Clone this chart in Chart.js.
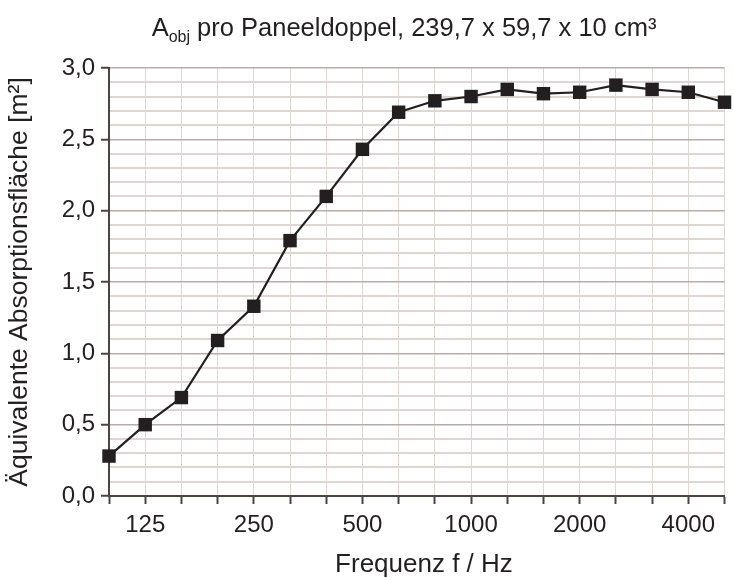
<!DOCTYPE html>
<html>
<head>
<meta charset="utf-8">
<script src="https://cdn.jsdelivr.net/npm/chart.js@4"></script>
<style>
  body { margin: 0; background: #fff; }
  #wrap { width: 734px; height: 578px; position: relative; }
</style>
</head>
<body>
<div id="wrap"><canvas id="chart" width="734" height="578"></canvas></div>
<script>
// third-octave bands
var frequencies = ['100', '125', '160', '200', '250', '315', '400', '500', '630', '800',
                   '1000', '1250', '1600', '2000', '2500', '3150', '4000', '5000'];
var absorption = [0.28, 0.50, 0.69, 1.09, 1.33, 1.79, 2.10, 2.43, 2.69, 2.77,
                  2.80, 2.85, 2.82, 2.83, 2.88, 2.85, 2.83, 2.76];
var xTickLabels = ['125', '250', '500', '1000', '2000', '4000'];

var fontFamily = '"Liberation Sans", Arial, sans-serif';
var textColor = '#231f20';
var axisColor = '#4d4442';

function isMajor(v) {
    return Math.abs(v * 2 - Math.round(v * 2)) < 1e-6;
}

// title with subscript
var titlePlugin = {
    id: 'subTitle',
    afterDraw: function(chart) {
        var ctx = chart.ctx;
        var big = '25.5px ' + fontFamily;
        var small = '16px ' + fontFamily;
        var parts = [['A', big, 0], ['obj', small, 6], [' pro Paneeldoppel, 239,7 x 59,7 x 10 cm³', big, 0]];
        var total = 0;
        parts.forEach(function(p) { ctx.font = p[1]; total += ctx.measureText(p[0]).width; });
        var x = 404 - total / 2;
        ctx.save();
        ctx.fillStyle = textColor;
        ctx.textBaseline = 'alphabetic';
        ctx.textAlign = 'left';
        parts.forEach(function(p) {
            ctx.font = p[1];
            ctx.fillText(p[0], x, 36 + p[2]);
            x += ctx.measureText(p[0]).width;
        });
        ctx.restore();
    }
};

new Chart(document.getElementById('chart'), {
    type: 'line',
    data: {
        labels: frequencies,
        datasets: [{
            data: absorption,
            borderColor: textColor,
            borderWidth: 2.2,
            pointStyle: 'rect',
            pointRadius: 9.5,
            pointBackgroundColor: textColor,
            pointBorderWidth: 0,
            tension: 0,
            clip: false
        }]
    },
    options: {
        responsive: false,
        animation: false,
        layout: { padding: { top: 68, right: 1, left: 0, bottom: 0 } },
        plugins: {
            legend: { display: false },
            title: { display: false },
            tooltip: { enabled: false }
        },
        scales: {
            x: {
                type: 'category',
                offset: false,
                afterFit: function(scale) { scale.height = 82; },
                border: { color: axisColor, width: 2 },
                grid: {
                    color: '#ddd6d3',
                    lineWidth: 1,
                    tickLength: 8,
                    tickColor: axisColor,
                    tickWidth: 2
                },
                ticks: {
                    autoSkip: false,
                    maxRotation: 0,
                    padding: 7,
                    color: textColor,
                    font: { family: fontFamily, size: 24 },
                    callback: function(value) {
                        var lab = this.getLabelForValue(value);
                        return xTickLabels.indexOf(lab) >= 0 ? lab : '';
                    }
                },
                title: {
                    display: true,
                    text: '\u00a0\u00a0Frequenz f / Hz',
                    color: textColor,
                    font: { family: fontFamily, size: 26, lineHeight: 1 },
                    padding: { top: 0, bottom: 0 }
                }
            },
            y: {
                min: 0,
                max: 3,
                afterFit: function(scale) { scale.width = 109; },
                border: { color: axisColor, width: 2 },
                grid: {
                    color: function(c) { return isMajor(c.tick.value) ? '#b8aca8' : '#ddd6d3'; },
                    lineWidth: function(c) { return isMajor(c.tick.value) ? 1.5 : 2; },
                    tickLength: 8,
                    tickColor: function(c) { return isMajor(c.tick.value) ? axisColor : 'rgba(0,0,0,0)'; },
                    tickWidth: 2
                },
                ticks: {
                    stepSize: 0.1,
                    autoSkip: false,
                    padding: 6,
                    color: textColor,
                    font: { family: fontFamily, size: 24 },
                    callback: function(value) {
                        return isMajor(value) ? value.toFixed(1).replace('.', ',') : '';
                    }
                },
                title: {
                    display: true,
                    text: 'Äquivalente Absorptionsfläche [m²]',
                    color: textColor,
                    font: { family: fontFamily, size: 26.5 },
                    padding: { top: 4, bottom: 0 }
                }
            }
        }
    },
    plugins: [titlePlugin]
});
</script>
</body>
</html>
